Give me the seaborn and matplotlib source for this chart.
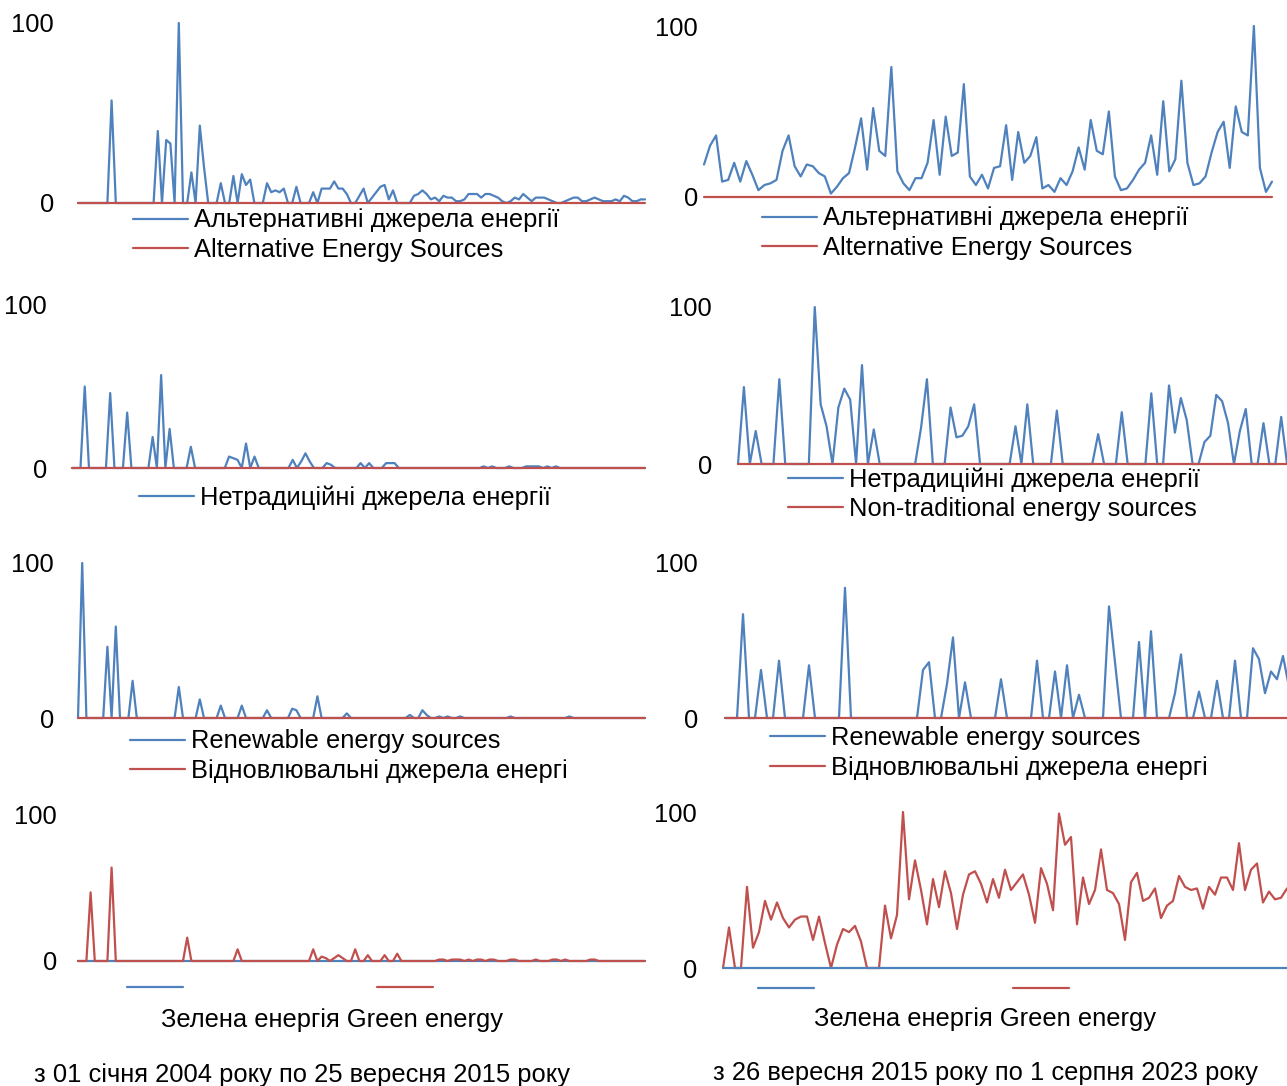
import pandas as pd
import seaborn as sns
import matplotlib.pyplot as plt

sns.set_theme(style="white")
plt.rcParams["font.family"] = ["Liberation Sans", "DejaVu Sans"]
plt.rcParams["text.color"] = "black"
plt.rcParams["ytick.color"] = "black"
plt.rcParams["ytick.labelcolor"] = "black"

BLUE = "#4F81BD"
RED = "#C0504D"
W, H = 1287, 1086
FS = 18.4

# ---- дані: 01.2004 - 09.2015 (ліворуч) ----
alt_ua_left = [0, 0, 0, 0, 0, 0, 0, 0, 57, 0,
               0, 0, 0, 0, 0, 0, 0, 0, 0, 40,
               0, 35, 33, 0, 100, 0, 0, 17, 0, 43,
               20, 0, 0, 0, 11, 0, 0, 15, 0, 16,
               10, 13, 0, 0, 0, 11, 6, 7, 6, 8,
               0, 0, 9, 0, 0, 0, 6, 0, 8, 8,
               8, 12, 8, 8, 5, 0, 0, 4, 8, 0,
               3, 6, 9, 10, 2, 7, 0, 0, 0, 0,
               4, 5, 7, 5, 2, 3, 1, 4, 3, 3,
               1, 1, 2, 5, 5, 5, 3, 5, 5, 4,
               3, 1, 0, 1, 3, 2, 5, 3, 1, 3,
               3, 3, 2, 1, 0, 0, 1, 2, 3, 3,
               1, 1, 2, 3, 2, 1, 1, 1, 2, 1,
               4, 3, 1, 1, 2, 2]
alt_en_left = [0] * 136

nontrad_ua_left = [0, 0, 0, 50, 0, 0, 0, 0, 0, 46,
                   0, 0, 0, 34, 0, 0, 0, 0, 0, 19,
                   0, 57, 0, 24, 0, 0, 0, 0, 13, 0,
                   0, 0, 0, 0, 0, 0, 0, 7, 6, 5,
                   0, 15, 0, 7, 0, 0, 0, 0, 0, 0,
                   0, 0, 5, 0, 4, 9, 4, 0, 0, 0,
                   3, 2, 0, 0, 0, 0, 0, 0, 3, 0,
                   3, 0, 0, 0, 3, 3, 3, 0, 0, 0,
                   0, 0, 0, 0, 0, 0, 0, 0, 0, 0,
                   0, 0, 0, 0, 0, 0, 0, 1, 0, 1,
                   0, 0, 0, 1, 0, 0, 0, 1, 1, 1,
                   1, 0, 1, 0, 1, 0, 0, 0, 0, 0,
                   0, 0, 0, 0, 0, 0, 0, 0, 0, 0,
                   0, 0, 0, 0, 0, 0]
nontrad_en_left = [0] * 136

renew_en_left = [0, 100, 0, 0, 0, 0, 0, 46, 0, 59,
                 0, 0, 0, 24, 0, 0, 0, 0, 0, 0,
                 0, 0, 0, 0, 20, 0, 0, 0, 0, 12,
                 0, 0, 0, 0, 8, 0, 0, 0, 0, 8,
                 0, 0, 0, 0, 0, 5, 0, 0, 0, 0,
                 0, 6, 5, 0, 0, 0, 0, 14, 0, 0,
                 0, 0, 0, 0, 3, 0, 0, 0, 0, 0,
                 0, 0, 0, 0, 0, 0, 0, 0, 0, 2,
                 0, 0, 5, 2, 0, 0, 1, 0, 1, 0,
                 0, 1, 0, 0, 0, 0, 0, 0, 0, 0,
                 0, 0, 0, 1, 0, 0, 0, 0, 0, 0,
                 0, 0, 0, 0, 0, 0, 0, 1, 0, 0,
                 0, 0, 0, 0, 0, 0, 0, 0, 0, 0,
                 0, 0, 0, 0, 0, 0]
renew_ua_left = [0] * 136

green_ua_left = [0] * 136
green_en_left = [0, 0, 0, 47, 0, 0, 0, 0, 64, 0,
                 0, 0, 0, 0, 0, 0, 0, 0, 0, 0,
                 0, 0, 0, 0, 0, 0, 16, 0, 0, 0,
                 0, 0, 0, 0, 0, 0, 0, 0, 8, 0,
                 0, 0, 0, 0, 0, 0, 0, 0, 0, 0,
                 0, 0, 0, 0, 0, 0, 8, 0, 3, 2,
                 0, 2, 4, 2, 0, 0, 8, 0, 0, 4,
                 0, 0, 0, 4, 0, 0, 5, 0, 0, 0,
                 0, 0, 0, 0, 0, 0, 1, 1, 0, 1,
                 1, 1, 0, 1, 0, 1, 1, 0, 1, 1,
                 0, 0, 0, 1, 1, 0, 0, 0, 0, 1,
                 0, 0, 0, 1, 1, 0, 1, 0, 0, 0,
                 0, 0, 1, 1, 0, 0, 0, 0, 0, 0,
                 0, 0, 0, 0, 0, 0]

# ---- дані: 09.2015 - 08.2023 (праворуч) ----
alt_ua_right = [19, 30, 36, 9, 10, 20, 9, 21, 13, 4,
                7, 8, 10, 27, 36, 18, 12, 19, 18, 14,
                12, 2, 6, 11, 14, 29, 46, 16, 52, 27,
                24, 76, 15, 8, 4, 11, 11, 20, 45, 13,
                47, 24, 26, 66, 12, 7, 13, 5, 17, 18,
                42, 10, 38, 20, 24, 35, 5, 7, 3, 11,
                7, 15, 29, 16, 45, 27, 25, 50, 12, 4,
                5, 10, 16, 20, 36, 13, 56, 15, 22, 68,
                20, 7, 8, 12, 26, 38, 44, 17, 53, 38,
                36, 100, 17, 3, 9]
alt_en_right = [0] * 95

nontrad_ua_right = [0, 49, 0, 21, 0, 0, 0, 54, 0, 0,
                    0, 0, 0, 100, 38, 24, 0, 36, 48, 41,
                    0, 63, 0, 22, 0, 0, 0, 0, 0, 0,
                    0, 23, 54, 0, 0, 0, 36, 17, 18, 24,
                    38, 0, 0, 0, 0, 0, 0, 24, 0, 38,
                    0, 0, 0, 0, 34, 0, 0, 0, 0, 0,
                    0, 19, 0, 0, 0, 33, 0, 0, 0, 0,
                    45, 0, 0, 50, 20, 42, 28, 0, 0, 14,
                    18, 44, 40, 26, 0, 21, 35, 0, 0, 26,
                    0, 0, 30, 0, 10]
nontrad_en_right = [0] * 95

renew_en_right = [0, 0, 0, 67, 0, 0, 31, 0, 0, 37,
                  0, 0, 0, 0, 34, 0, 0, 0, 0, 0,
                  84, 0, 0, 0, 0, 0, 0, 0, 0, 0,
                  0, 0, 0, 31, 36, 0, 0, 22, 52, 0,
                  23, 0, 0, 0, 0, 0, 25, 0, 0, 0,
                  0, 0, 37, 0, 0, 30, 0, 34, 0, 15,
                  0, 0, 0, 0, 72, 36, 0, 0, 0, 49,
                  0, 56, 0, 0, 0, 16, 41, 0, 0, 17,
                  0, 0, 24, 0, 0, 37, 0, 0, 45, 38,
                  16, 30, 25, 40, 20]
renew_ua_right = [0] * 95

green_ua_right = [0] * 95
green_en_right = [0, 26, 0, 0, 52, 13, 23, 43, 31, 42,
                  32, 26, 31, 33, 33, 18, 33, 16, 0, 15,
                  25, 23, 27, 17, 0, 0, 0, 40, 19, 34,
                  100, 44, 69, 50, 28, 57, 39, 62, 48, 25,
                  47, 60, 62, 54, 42, 57, 45, 63, 50, 55,
                  60, 47, 29, 64, 54, 37, 99, 79, 84, 28,
                  58, 41, 50, 76, 50, 48, 41, 18, 55, 61,
                  43, 45, 51, 32, 40, 43, 59, 52, 50, 51,
                  38, 52, 47, 58, 58, 50, 80, 50, 63, 67,
                  42, 49, 44, 45, 51]

fig = plt.figure(figsize=(W / 100, H / 100), dpi=100)


def panel(x_l, x_r, y0, y100, blue, red, label_right, blue_on_top=False):
    ax = fig.add_axes([x_l / W, 1 - y0 / H, (x_r - x_l) / W, (y0 - y100) / H])
    df = pd.DataFrame({"t": range(len(blue)), "blue": blue, "red": red})
    sns.lineplot(data=df, x="t", y="blue", ax=ax, color=BLUE, lw=1.6,
                 clip_on=False, zorder=3 if blue_on_top else 2)
    sns.lineplot(data=df, x="t", y="red", ax=ax, color=RED, lw=1.6,
                 clip_on=False, zorder=2 if blue_on_top else 3)
    ax.set_xlim(0, len(blue) - 1)
    ax.set_ylim(0, 100)
    ax.set_xticks([])
    ax.set_yticks([0, 100], ["0", "100"])
    ax.tick_params(axis="y", length=0, labelsize=FS, labelcolor="black",
                   pad=(x_l - label_right) * 0.72)
    ax.set_xlabel("")
    ax.set_ylabel("")
    sns.despine(ax=ax, left=True, bottom=True)
    return ax


def legend(ax, labels, hx, hy):
    lines = ax.get_lines()[:len(labels)]
    ax.legend(lines, labels, loc="center left", bbox_to_anchor=(hx / W, 1 - hy / H),
              bbox_transform=fig.transFigure, frameon=False, fontsize=FS,
              labelcolor="black", handlelength=2.15, handletextpad=0.25,
              labelspacing=0.2, borderpad=0, borderaxespad=0)


def green_legend(ax, hx, hy, gap, tx, ty):
    ax.legend(ax.get_lines()[:2], ["", ""], ncol=2, loc="center left",
              bbox_to_anchor=(hx / W, 1 - hy / H), bbox_transform=fig.transFigure,
              frameon=False, fontsize=FS, handlelength=2.2, handletextpad=0,
              columnspacing=gap / 25.6, borderpad=0, borderaxespad=0)
    fig.text(tx / W, 1 - ty / H, "Зелена енергія Green energy", ha="center",
             va="center", fontsize=FS)


# ряд 1
ax = panel(78, 645, 203, 23, alt_ua_left, alt_en_left, 54)
legend(ax, ["Альтернативні джерела енергії", "Alternative Energy Sources"], 133, 235)
ax = panel(704, 1272, 197, 26, alt_ua_right, alt_en_right, 698)
legend(ax, ["Альтернативні джерела енергії", "Alternative Energy Sources"], 762, 233)

# ряд 2
ax = panel(72, 645, 468, 305, nontrad_ua_left, nontrad_en_left, 47)
legend(ax, ["Нетрадиційні джерела енергії"], 139, 498)
ax = panel(738, 1293, 464, 307, nontrad_ua_right, nontrad_en_right, 712)
legend(ax, ["Нетрадиційні джерела енергії", "Non-traditional energy sources"], 788, 494)

# ряд 3
ax = panel(78, 645, 718, 563, renew_en_left, renew_ua_left, 54)
legend(ax, ["Renewable energy sources", "Відновлювальні джерела енергі"], 130, 756)
ax = panel(725, 1289, 718, 563, renew_en_right, renew_ua_right, 698)
legend(ax, ["Renewable energy sources", "Відновлювальні джерела енергі"], 770, 753)

# ряд 4
ax = panel(78, 645, 961, 815, green_ua_left, green_en_left, 57)
green_legend(ax, 127, 989, 194, 332, 1020)
ax = panel(723, 1287, 968, 812, green_ua_right, green_en_right, 697, blue_on_top=True)
green_legend(ax, 758, 990, 199, 985, 1019)

fig.text(302 / W, 1 - 1075 / H, "з 01 січня 2004 року по 25 вересня 2015 року",
         ha="center", va="center", fontsize=FS)
fig.text(985 / W, 1 - 1073 / H, "з 26 вересня 2015 року по 1 серпня 2023 року",
         ha="center", va="center", fontsize=FS)

fig.savefig("out.png", dpi=100)
